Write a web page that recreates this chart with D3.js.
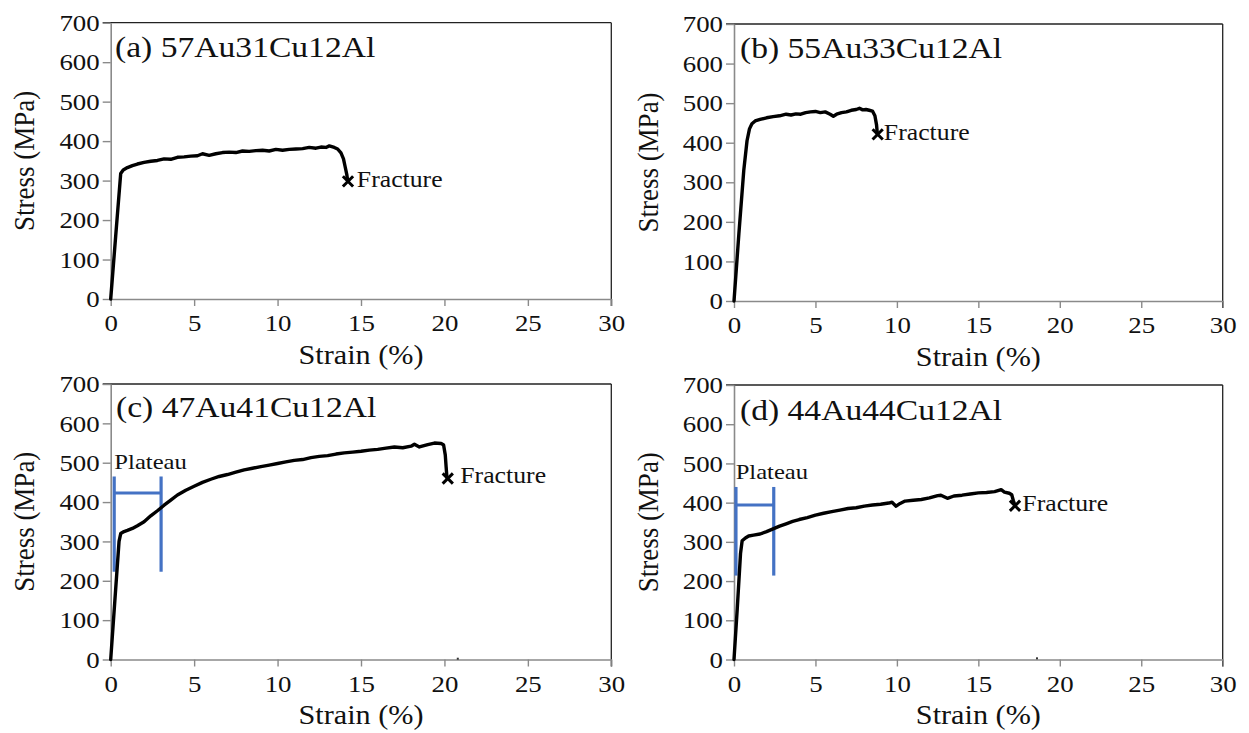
<!DOCTYPE html>
<html><head><meta charset="utf-8">
<script src="https://cdn.jsdelivr.net/npm/d3@7"></script>
<style>html,body{margin:0;padding:0;background:#fff;}svg{display:block;}</style>
</head><body>
<svg id="chart" width="1249" height="733"></svg>
<script>
// ---------- data ----------
const xTicks = [0, 5, 10, 15, 20, 25, 30];
const yTicks = [0, 100, 200, 300, 400, 500, 600, 700];
const panelTitles = ["(a) 57Au31Cu12Al", "(b) 55Au33Cu12Al", "(c) 47Au41Cu12Al", "(d) 44Au44Cu12Al"];
const xTitle = "Strain (%)";
const yTitle = "Stress (MPa)";

const strainA = [0,0.3,0.6,0.75,1.0,1.3,1.6,2.0,2.4,2.8,3.2,3.6,4.0,4.4,4.8,5.2,5.5,5.9,6.3,6.7,7.1,7.5,7.9,8.3,8.7,9.1,9.5,9.9,10.3,10.7,11.1,11.5,11.9,12.3,12.6,12.9,13.1,13.4,13.6,13.8,13.95,14.05,14.15,14.2];
const stressA = [0,160,318,327,333,338,342,346,349,351,355,354,359,360,362,363,368,364,368,371,372,371,375,374,376,377,375,379,377,379,380,381,384,382,385,384,388,384,380,370,355,335,315,300];

const strainB = [0,0.3,0.6,0.8,0.95,1.1,1.3,1.6,2.0,2.4,2.8,3.2,3.5,3.8,4.1,4.4,4.7,5.0,5.3,5.6,5.9,6.1,6.3,6.6,6.9,7.2,7.5,7.7,7.9,8.1,8.3,8.5,8.65,8.75,8.8];
const stressB = [0,170,330,405,435,448,455,459,463,466,468,472,470,473,472,476,478,479,476,478,472,467,472,476,478,482,484,487,483,484,482,480,468,445,422];

const strainC = [0,0.25,0.5,0.6,0.8,1.0,1.3,1.6,2.0,2.4,2.8,3.2,3.6,4.0,4.5,5.0,5.5,6.0,6.5,7.0,7.5,8.0,8.5,9.0,9.5,10.0,10.5,11.0,11.5,12.0,12.5,13.0,13.5,14.0,14.5,15.0,15.5,16.0,16.5,17.0,17.5,18.0,18.2,18.5,19.0,19.4,19.8,19.95,20.05,20.1,20.15];
const stressC = [0,150,300,320,325,328,333,340,350,365,378,392,405,418,430,440,450,458,465,470,476,482,486,490,494,498,502,506,508,513,516,518,522,525,527,529,532,534,537,540,538,542,547,540,546,550,549,545,520,490,462];

const strainD = [0,0.2,0.4,0.5,0.7,0.9,1.2,1.6,2.0,2.4,2.8,3.2,3.6,4.0,4.5,5.0,5.5,6.0,6.5,7.0,7.5,8.0,8.5,9.0,9.5,9.7,9.95,10.2,10.5,11.0,11.5,12.0,12.5,12.7,13.1,13.5,14.0,14.5,15.0,15.5,16.0,16.4,16.6,16.9,17.05,17.15,17.25];
const stressD = [0,130,270,303,310,315,317,320,326,333,340,346,352,357,362,368,373,377,381,385,387,391,394,396,399,401,391,398,404,406,408,412,418,419,411,417,419,422,425,426,428,433,427,424,420,405,393];

// fracture points [strain, stress]
const fractureA = [14.22, 298];
const fractureB = [8.82, 421];
const fractureC = [20.2, 460];
const fractureD = [17.25, 392];
// fracture label anchors [strain, stress]
const fracLabelA = [14.75, 297];
const fracLabelB = [9.2, 420];
const fracLabelC = [20.95, 461];
const fracLabelD = [17.7, 393];
// plateau markers: strain of two bars, [low, high, mid] stress
const plateauStrainC = [0.21, 3.02];
const plateauStressC = [223, 465, 423];
const plateauStrainD = [0.12, 2.44];
const plateauStressD = [214, 440, 394];
const plateauLabelC = [0.22, 496];
const plateauLabelD = [0.1, 473];
// small specks on the axis
const speckC = [20.8, 2];
const speckD = [18.6, 3];

// ---------- layout ----------
const layout = [
  {left:110.7, right:611.3, top:22.7, bottom:299, titleX:115, titleDy:34, xtY:358, ytX:27},
  {left:734,   right:1222.7, top:24,  bottom:301, titleX:740, titleDy:34, xtY:360, ytX:651},
  {left:110.7, right:611.3, top:384,  bottom:659.5, titleX:116, titleDy:32.5, xtY:718, ytX:27},
  {left:734,   right:1222.7, top:385, bottom:659.5, titleX:740, titleDy:34.5, xtY:718, ytX:651}
];
const series = [
  {strain:strainA, stress:stressA, frac:fractureA, fracLabel:fracLabelA},
  {strain:strainB, stress:stressB, frac:fractureB, fracLabel:fracLabelB},
  {strain:strainC, stress:stressC, frac:fractureC, fracLabel:fracLabelC, pStrain:plateauStrainC, pStress:plateauStressC, pLabel:plateauLabelC, speck:speckC},
  {strain:strainD, stress:stressD, frac:fractureD, fracLabel:fracLabelD, pStrain:plateauStrainD, pStress:plateauStressD, pLabel:plateauLabelD, speck:speckD}
];

const FONT = "'Liberation Serif','Times New Roman',serif";
const SX = 1.12; // horizontal stretch of the source text
const axisGray = "#8a8a8a";
const blue = "#4472C4";

const svg = d3.select("#chart");

function stretchedText(g, x, y, txt, size, anchor, baseline) {
  const t = g.append("text")
    .attr("transform", `translate(${x},${y}) scale(${SX},1)`)
    .attr("font-family", FONT).attr("font-size", size)
    .attr("fill", "#111").attr("text-anchor", anchor || "start")
    .text(txt);
  if (baseline) t.attr("dominant-baseline", baseline);
  return t;
}

layout.forEach((L, i) => {
  const S = series[i];
  const g = svg.append("g");
  const x = d3.scaleLinear().domain([0, 30]).range([L.left, L.right]);
  const y = d3.scaleLinear().domain([0, 700]).range([L.bottom, L.top]);

  // frame top/right (black)
  g.append("line").attr("x1", L.left - 8).attr("x2", L.right).attr("y1", L.top).attr("y2", L.top)
    .attr("stroke", "#222").attr("stroke-width", 1.3);
  g.append("line").attr("x1", L.right).attr("x2", L.right).attr("y1", L.top).attr("y2", L.bottom + 7)
    .attr("stroke", "#222").attr("stroke-width", 1.3);

  // axes
  const xa = g.append("g").attr("transform", `translate(0,${L.bottom})`)
    .call(d3.axisBottom(x).tickValues(xTicks).tickSize(7).tickSizeOuter(0).tickPadding(4));
  const ya = g.append("g").attr("transform", `translate(${L.left},0)`)
    .call(d3.axisLeft(y).tickValues(yTicks).tickSize(8).tickSizeOuter(0).tickPadding(3));
  [xa, ya].forEach(a => {
    a.select(".domain").attr("stroke", axisGray).attr("stroke-width", 1.6);
    a.selectAll(".tick line").attr("stroke", axisGray).attr("stroke-width", 1.4);
    a.selectAll(".tick text").attr("font-family", FONT).attr("font-size", 24).attr("fill", "#111");
  });
  xa.selectAll(".tick text").each(function() {
    d3.select(this).attr("transform", `scale(${SX},1)`).attr("y", 15).attr("dy", "0.71em");
  });
  ya.selectAll(".tick text").each(function() {
    const t = d3.select(this);
    const xx = +t.attr("x");
    t.attr("x", null).attr("transform", `translate(${xx},0) scale(${SX},1)`);
  });

  // axis titles
  stretchedText(g, (L.left + L.right) / 2, L.xtY, xTitle, 27, "middle", "middle");
  g.append("text")
    .attr("transform", `translate(${L.ytX},${(L.top + L.bottom) / 2}) rotate(-90) scale(1,${SX})`)
    .attr("font-family", FONT).attr("font-size", 27).attr("fill", "#111")
    .attr("text-anchor", "middle").attr("dominant-baseline", "middle")
    .text(yTitle);

  // panel title
  stretchedText(g, L.titleX, L.top + L.titleDy, panelTitles[i], 30, "start");

  // plateau markers
  if (S.pStrain) {
    const pg = g.append("g").attr("stroke", blue).attr("stroke-width", 3.2);
    S.pStrain.forEach(s => {
      pg.append("line").attr("x1", x(s)).attr("x2", x(s))
        .attr("y1", y(S.pStress[0])).attr("y2", y(S.pStress[1]));
    });
    pg.append("line").attr("x1", x(S.pStrain[0])).attr("x2", x(S.pStrain[1]))
      .attr("y1", y(S.pStress[2])).attr("y2", y(S.pStress[2]));
    stretchedText(g, x(S.pLabel[0]), y(S.pLabel[1]), "Plateau", 22, "start", "middle");
  }

  // curve
  const pts = S.strain.map((s, k) => [s, S.stress[k]]);
  g.append("path").datum(pts)
    .attr("d", d3.line().x(d => x(d[0])).y(d => y(d[1])))
    .attr("fill", "none").attr("stroke", "#000").attr("stroke-width", 3.4)
    .attr("stroke-linejoin", "round").attr("stroke-linecap", "round");

  // fracture marker
  g.append("path")
    .attr("d", d3.symbol(d3.symbolX, 70)())
    .attr("transform", `translate(${x(S.frac[0])},${y(S.frac[1])})`)
    .attr("fill", "none").attr("stroke", "#000").attr("stroke-width", 3);
  stretchedText(g, x(S.fracLabel[0]), y(S.fracLabel[1]), "Fracture", 23, "start", "middle");

  if (S.speck) {
    g.append("rect").attr("x", x(S.speck[0]) - 1).attr("y", y(S.speck[1]) - 1)
      .attr("width", 2).attr("height", 2).attr("fill", "#333");
  }
});
</script>
</body></html>
